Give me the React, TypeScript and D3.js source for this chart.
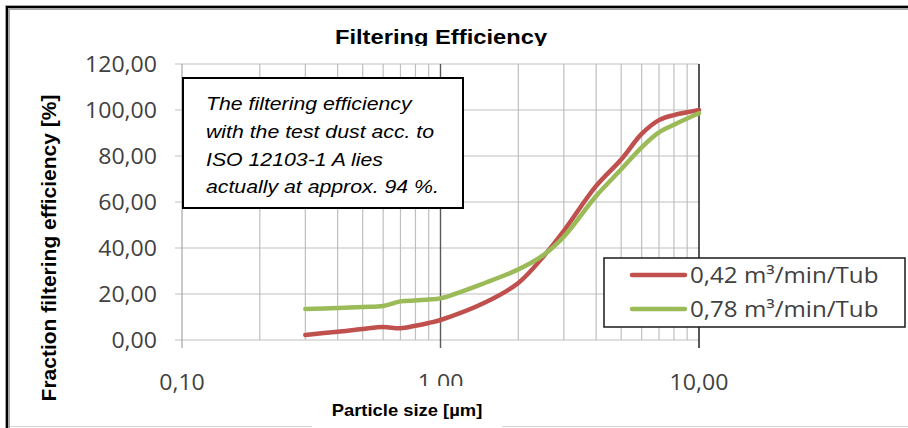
import React from 'react';
import * as d3 from 'd3';

// particle sizes in µm and fraction efficiency in %
const particleSizes = [0.3, 0.4, 0.5, 0.6, 0.7, 0.8, 0.9, 1, 1.5, 2, 2.5, 3, 4, 5, 6, 7, 8, 9, 10];
const flow042 = [2.2, 3.6, 4.8, 5.6, 5.1, 6.2, 7.4, 8.7, 16.5, 24.8, 36.3, 47.5, 67, 78.5, 89.6, 95.6, 97.8, 99, 100];
const flow078 = [13.5, 13.9, 14.4, 14.8, 16.8, 17.2, 17.6, 18.1, 25, 30.7, 36.9, 44.9, 62.6, 74.2, 83.8, 90.3, 93.6, 96.3, 98.6];

const seriesNames = ['0,42 m³/min/Tub', '0,78 m³/min/Tub'];
const seriesColors = ['#c0504d', '#9bbb59'];

const yTicks = [0, 20, 40, 60, 80, 100, 120];
const xTicks = [0.1, 1, 10];
const xTickLabels = ['0,10', '1.00', '10,00'];

const noteLines = [
  'The filtering efficiency',
  'with the test dust acc. to',
  'ISO 12103-1 A lies',
  'actually at approx. 94 %.'
];

const width = 908;
const height = 428;
const margin = { top: 64, right: 209, bottom: 88, left: 182 };

const SText = ({ x, y, sx = 1, anchor = 'start', children, ...rest }: any) => (
  <text
    transform={`translate(${x},${y}) scale(${sx},1)`}
    textAnchor={anchor}
    {...rest}
  >
    {children}
  </text>
);

const App = () => {
  const xScale = d3
    .scaleLog()
    .domain([0.1, 10])
    .range([margin.left, width - margin.right]);
  const yScale = d3
    .scaleLinear()
    .domain([0, 120])
    .range([height - margin.bottom, margin.top]);

  const x0 = xScale.range()[0];
  const x1 = xScale.range()[1];
  const y0 = yScale.range()[0];
  const y1 = yScale.range()[1];

  // minor log grid lines (0.2 .. 0.9, 2 .. 9)
  const minor = xScale.ticks().filter(t => !xTicks.includes(t));

  const line = d3
    .line<number>()
    .x((_, i) => xScale(particleSizes[i]))
    .y(d => yScale(d))
    .curve(d3.curveCatmullRom.alpha(0.5));

  const series = [flow042, flow078];
  const yLabel = (v: number) => d3.format('.2f')(v).replace('.', ',');

  const tickFont = "'Open Sans', sans-serif";
  const arial = "'Liberation Sans', Arial, sans-serif";

  return (
    <svg
      width={width}
      height={height}
      style={{ position: 'absolute', left: 0, top: 0, background: '#fff' }}
    >
      <defs>
        <clipPath id="titleClip">
          <rect x={0} y={0} width={width} height={46} />
        </clipPath>
      </defs>

      {/* outer frame */}
      <line x1={7.5} y1={5} x2={7.5} y2={height} stroke="#a6a6a6" strokeWidth={5} />
      <line x1={5} y1={7.5} x2={width} y2={7.5} stroke="#a6a6a6" strokeWidth={5} />
      <line x1={7} y1={6} x2={7} y2={height} stroke="#000" strokeWidth={2} />
      <line x1={6} y1={7} x2={width} y2={7} stroke="#000" strokeWidth={2} />
      <line x1={10} y1={426.5} x2={width} y2={426.5} stroke="#d4d4d4" strokeWidth={1} />

      {/* title, bottom cut off like in the original */}
      <g clipPath="url(#titleClip)">
        <SText
          x={441}
          y={44}
          sx={1.13}
          anchor="middle"
          fontFamily={arial}
          fontWeight="bold"
          fontSize={21}
        >
          Filtering Efficiency
        </SText>
      </g>

      {/* grid */}
      <g>
        {yTicks.map(t => (
          <line key={t} x1={x0 - 7} x2={x1} y1={yScale(t)} y2={yScale(t)} stroke="#bfbfbf" strokeWidth={1.2} />
        ))}
        {minor.map(t => (
          <line key={t} x1={xScale(t)} x2={xScale(t)} y1={y1} y2={y0} stroke="#bfbfbf" strokeWidth={1.2} />
        ))}
        <line x1={x0} x2={x0} y1={y1} y2={y0 + 8} stroke="#a6a6a6" strokeWidth={1.2} />
        <line x1={xScale(1)} x2={xScale(1)} y1={y1} y2={y0 + 8} stroke="#5a5a5a" strokeWidth={1.4} />
        <line x1={x1} x2={x1} y1={y1} y2={y0 + 8} stroke="#111" strokeWidth={1.4} />
      </g>

      {/* y tick labels */}
      {yTicks.map(t => (
        <SText key={t} x={157} y={yScale(t) + 8} sx={1.05} anchor="end" fontFamily={tickFont} fontSize={22} fill="#404040">
          {yLabel(t)}
        </SText>
      ))}

      {/* x tick labels */}
      {xTicks.map((t, i) => (
        <SText key={t} x={xScale(t)} y={390} sx={1.05} anchor="middle" fontFamily={tickFont} fontSize={22} fill="#404040">
          {xTickLabels[i]}
        </SText>
      ))}

      {/* series */}
      {series.map((s, i) => (
        <path
          key={i}
          d={line(s) || ''}
          fill="none"
          stroke={seriesColors[i]}
          strokeWidth={4.5}
          strokeLinejoin="round"
          strokeLinecap="round"
        />
      ))}

      {/* annotation box */}
      <rect x={183} y={78} width={280} height={130} fill="#fff" stroke="#000" strokeWidth={2} />
      {noteLines.map((l, i) => (
        <SText key={i} x={206} y={110 + i * 27.8} sx={1.15} fontFamily={arial} fontStyle="italic" fontSize={18.5} fill="#000">
          {l}
        </SText>
      ))}

      {/* legend */}
      <rect x={604} y={258} width={301} height={69} fill="#fff" stroke="#1a1a1a" strokeWidth={1.5} />
      {seriesNames.map((n, i) => (
        <g key={n}>
          <line x1={632} x2={685} y1={275 + i * 34} y2={275 + i * 34} stroke={seriesColors[i]} strokeWidth={4.5} strokeLinecap="round" />
          <SText x={690} y={283 + i * 34} sx={1.15} fontFamily={tickFont} fontSize={21} fill="#404040">
            {n}
          </SText>
        </g>
      ))}

      {/* x axis title (its box hides the lower part of the 1.00 label) */}
      <rect x={312} y={386} width={190} height={42} fill="#fff" />
      <SText x={407} y={416} sx={1.15} anchor="middle" fontFamily={arial} fontWeight="bold" fontSize={16} fill="#000">
        Particle size [µm]
      </SText>

      {/* y axis title */}
      <text
        transform={`translate(56,248) rotate(-90)`}
        textAnchor="middle"
        fontFamily={arial}
        fontWeight="bold"
        fontSize={21}
        fill="#000"
      >
        Fraction filtering efficiency [%]
      </text>
    </svg>
  );
};

export default App;
